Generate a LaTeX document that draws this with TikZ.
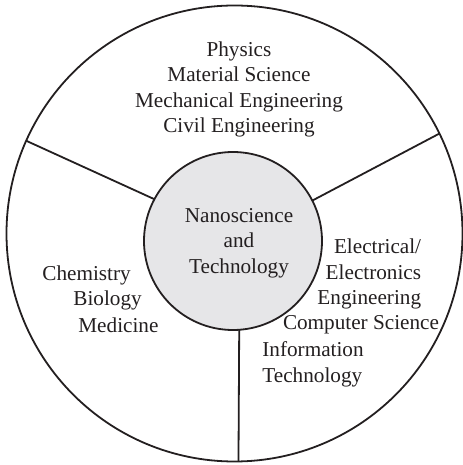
\documentclass[tikz,border=0pt]{standalone}
\usepackage{fontspec}
\setmainfont{Liberation Serif}
\definecolor{RingInk}{HTML}{231F20}
\definecolor{CoreFill}{HTML}{E6E6E8}
\tikzset{
  every node/.style={font=\fontsize{10.6}{12.7}\selectfont, text=RingInk},
  ring/.style={circle, draw=RingInk, line width=0.9pt, minimum size=228pt, inner sep=0pt, outer sep=0pt},
  core/.style={circle, draw=RingInk, line width=0.9pt, fill=CoreFill, minimum size=89pt, inner sep=0pt, outer sep=0pt, align=center},
  spoke/.style={draw=RingInk, line width=0.9pt},
  field/.style={inner sep=0pt},
}

\begin{document}
\begin{tikzpicture}[x=0.5pt,y=0.5pt]
  \useasboundingbox (0,0) rectangle (462,465);
  % Outer disc and the shaded core
  \node[ring] (ring) at (234.5,231.5) {};
  \node[core] (core) at (233,224) {};
  \node[field, align=center] (hub) at (239,222) {Nanoscience\\and\\Technology};
  % Spokes splitting the ring in three
  \draw[spoke] (core.152.6) -- (ring.156.3);
  \draw[spoke] (core.27.4) -- (ring.26.6);
  \draw[spoke] (core.-86.8) -- (ring.-89.1);
  % Upper sector
  \node[field, align=center] (phys) at (239,375.5) {Physics\\Material Science\\Mechanical Engineering\\Civil Engineering};
  % Left sector, lines stepped along the core
  \node[field, anchor=west] (chem) at (42,190) {Chemistry};
  \node[field, anchor=west] (bio) at (73,165) {Biology};
  \node[field, anchor=west] (med) at (78,140) {Medicine};
  % Right sector
  \node[field, align=right, anchor=east] (elec) at (421.5,191) {Electrical/\\Electronics\\Engineering};
  \node[field] (comp) at (361,140) {Computer Science};
  \node[field, align=left, anchor=west] (info) at (262,100.5) {Information\\Technology};
\end{tikzpicture}
\end{document}
